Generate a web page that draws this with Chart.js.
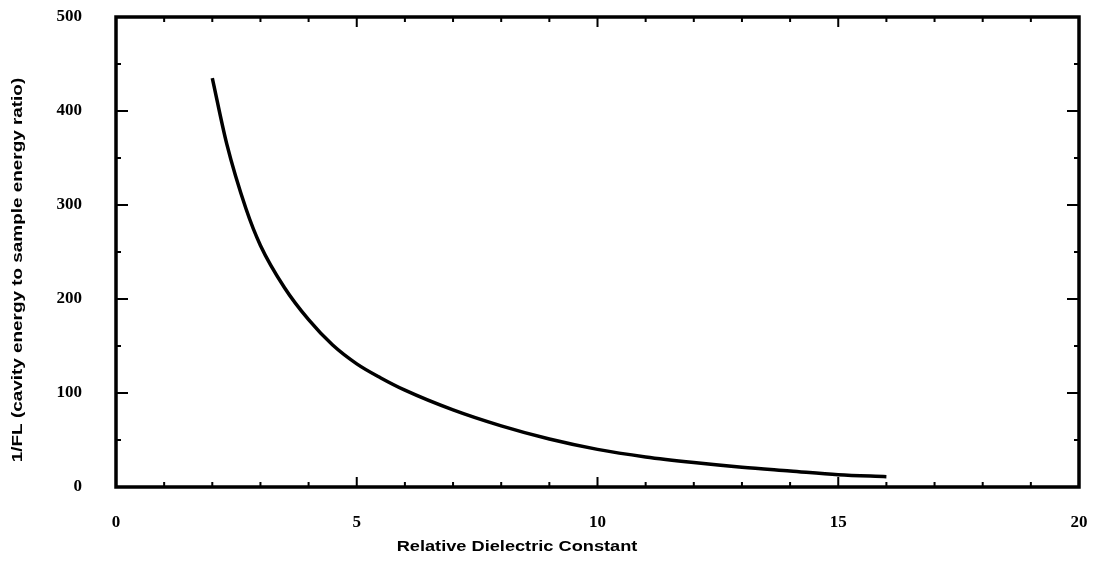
<!DOCTYPE html>
<html>
<head>
<meta charset="utf-8">
<script src="https://cdn.jsdelivr.net/npm/chart.js@4"></script>
<style>
  html, body { margin: 0; padding: 0; background: #fff; }
  #wrap { width: 1093px; height: 563px; }
</style>
</head>
<body>
<div id="wrap"><canvas id="dielectricChart" width="1093" height="563"></canvas></div>
<script>
// values
const permittivity = [2, 2.3, 2.7, 3, 3.5, 4, 4.5, 5, 5.5, 6, 7, 8, 9, 10, 11, 12, 13, 14, 15, 16];
const inverseFL = [435, 365, 296, 257, 212, 178, 151, 131, 116, 103, 82, 65, 51, 40, 32, 26, 21, 17, 13, 11];
const xTicks = [0, 5, 10, 15, 20];
const yTicks = [0, 100, 200, 300, 400, 500];
const xTitle = 'Relative Dielectric Constant';
const yTitle = '1/FL (cavity energy to sample energy ratio)';

// frame, inward tick marks on all four sides, and the (stretched) axis titles
const framePlugin = {
    id: 'frame',
    afterDraw(chart) {
        const ctx = chart.ctx;
        const a = chart.chartArea;
        const xs = chart.scales.x, ys = chart.scales.y;
        ctx.save();
        ctx.strokeStyle = '#000';
        ctx.lineWidth = 2;
        for (let v = 1; v < 20; v++) {
            const px = xs.getPixelForValue(v);
            const len = v % 5 === 0 ? 10 : 5;
            ctx.beginPath();
            ctx.moveTo(px, a.bottom); ctx.lineTo(px, a.bottom - len);
            ctx.moveTo(px, a.top); ctx.lineTo(px, a.top + len);
            ctx.stroke();
        }
        for (let v = 50; v < 500; v += 50) {
            const py = ys.getPixelForValue(v);
            const len = v % 100 === 0 ? 12 : 5;
            ctx.beginPath();
            ctx.moveTo(a.left, py); ctx.lineTo(a.left + len, py);
            ctx.moveTo(a.right, py); ctx.lineTo(a.right - len, py);
            ctx.stroke();
        }
        ctx.lineWidth = 3.5;
        ctx.strokeRect(a.left, a.top, a.right - a.left, a.bottom - a.top);

        ctx.fillStyle = '#000';
        ctx.font = 'bold 14px "Liberation Sans", Arial, sans-serif';
        ctx.textAlign = 'center';
        ctx.textBaseline = 'middle';
        ctx.save();
        ctx.translate(517, 547);
        ctx.scale(1.3, 1);
        ctx.fillText(xTitle, 0, 0);
        ctx.restore();
        ctx.save();
        ctx.translate(18, 270);
        ctx.rotate(-Math.PI / 2);
        ctx.scale(1.35, 1);
        ctx.fillText(yTitle, 0, 0);
        ctx.restore();
        ctx.restore();
    }
};

const tickFont = { family: '"Liberation Serif", serif', size: 17, weight: 'bold' };

const ctx = document.getElementById('dielectricChart').getContext('2d');
new Chart(ctx, {
    type: 'scatter',
    data: {
        datasets: [{
            data: permittivity.map((x, i) => ({ x: x, y: inverseFL[i] })),
            showLine: true,
            borderColor: '#000',
            borderWidth: 3.5,
            pointRadius: 0,
            cubicInterpolationMode: 'monotone',
            fill: false
        }]
    },
    options: {
        responsive: false,
        animation: false,
        layout: { padding: { top: 17, right: 14, left: 0, bottom: 0 } },
        plugins: { legend: { display: false }, tooltip: { enabled: false } },
        scales: {
            x: {
                type: 'linear',
                min: 0, max: 20,
                afterBuildTicks: s => { s.ticks = xTicks.map(v => ({ value: v })); },
                afterFit: s => { s.height = 76; s.paddingLeft = 0; s.paddingRight = 0; },
                grid: { display: false },
                border: { display: false },
                ticks: { color: '#000', font: tickFont, padding: 17, maxRotation: 0 }
            },
            y: {
                min: 0, max: 500,
                afterBuildTicks: s => { s.ticks = yTicks.map(v => ({ value: v })); },
                afterFit: s => { s.width = 116; s.paddingTop = 0; s.paddingBottom = 0; },
                grid: { display: false },
                border: { display: false },
                ticks: { color: '#000', font: tickFont, padding: 26 }
            }
        }
    },
    plugins: [framePlugin]
});
</script>
</body>
</html>
